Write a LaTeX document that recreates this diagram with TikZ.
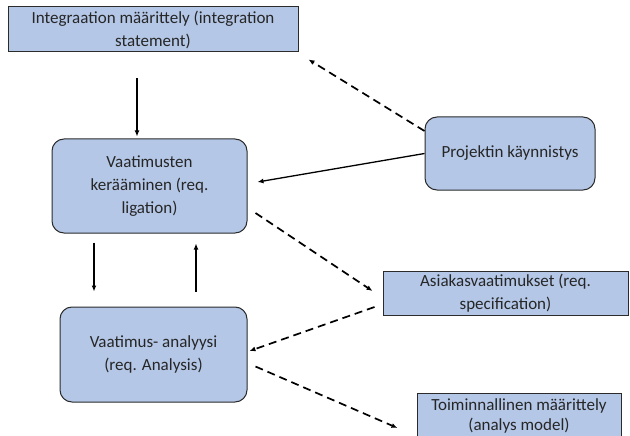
\documentclass[tikz,border=0pt]{standalone}
\usepackage{fontspec}
\setmainfont{Carlito}
\usetikzlibrary{arrows.meta,calc}
\definecolor{boxfill}{HTML}{B4C7E7}
\definecolor{boxline}{HTML}{2B2B2B}
\begin{document}
\begin{tikzpicture}[x=1pt,y=-1pt,
  box/.style={draw=boxline,fill=boxfill,line width=1pt,align=center,
    font=\fontsize{17}{23}\selectfont,text=black!85,inner sep=0pt},
  rbox/.style={box,rounded corners=12pt},
  link/.style={-{Latex[length=6pt,width=5pt]},line width=1.3pt,black},
  dlink/.style={link,line width=1.7pt,dash pattern=on 8pt off 5pt}]
\useasboundingbox (0,0) rectangle (630,436);
% blocks
\node[box,minimum width=290pt,minimum height=45pt] (integ) at (153,29.5)
  {Integraation määrittely (integration\\statement)};
\node[rbox,minimum width=195pt,minimum height=94pt] (keraa) at (149.5,186)
  {Vaatimusten\\kerääminen (req.\\ligation)};
\node[rbox,minimum width=170pt,minimum height=73pt] (proj) at (510,153.5)
  {Projektin käynnistys};
\node[box,minimum width=245pt,minimum height=44pt] (asiakas) at (505.5,293)
  {Asiakasvaatimukset (req.\\specification)};
\node[rbox,minimum width=187pt,minimum height=95pt] (anal) at (153.5,354.5)
  {Vaatimus- analyysi\\(req. Analysis)};
\node[box,minimum width=204pt,minimum height=45pt,
  font=\fontsize{17}{20}\selectfont] (toim) at (519,416)
  {Toiminnallinen määrittely\\(analys model)};
% connectors
\draw[link] ($(integ.south)+(-16,26)$) -- ($(keraa.north)+(-12.5,-2)$);
\draw[dlink] ($(proj.west)+(0,-22.5)$) -- ($(integ.south east)+(10,7)$);
\draw[link] (proj.west) -- ($(keraa.east)+(10,-4)$);
\draw[dlink] ($(keraa.east)+(8,27)$) -- ($(asiakas.west)+(-10,-2)$);
\draw[dlink] ($(asiakas.west)+(-8,14)$) -- ($(anal.east)+(2,-3.5)$);
\draw[link] ($(keraa.south)+(-55.5,9)$) -- ($(anal.north)+(-59.5,-15)$);
\draw[link] ($(anal.north)+(42.5,-15)$) -- ($(keraa.south)+(46.5,10)$);
\draw[dlink] ($(anal.east)+(8,12)$) -- ($(toim.west)+(-19,12)$);
\end{tikzpicture}
\end{document}
